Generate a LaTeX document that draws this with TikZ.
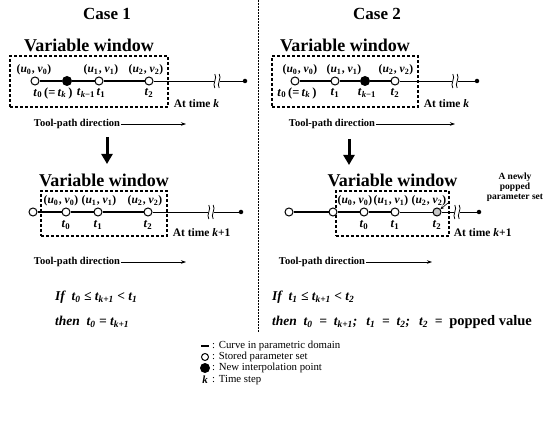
\documentclass[tikz,border=0pt]{standalone}
\usepackage{fontspec}
\setmainfont{Liberation Serif}
\usetikzlibrary{arrows.meta, positioning}
\newcommand{\tvar}[1]{\textit{t}\textsubscript{#1}}
\newcommand{\uv}[1]{(\textit{u}\textsubscript{#1}\kern.5pt, \textit{v}\textsubscript{#1})}
% two wavy strokes that cut the curve
\newcommand{\pathbreak}[1]{%
  \fill[white] ([xshift=-3pt,yshift=-2pt]#1) rectangle ([xshift=3pt,yshift=2pt]#1);
  \foreach \dx in {-2.2,2.2}
    \draw[line width=0.8pt] ([xshift=\dx pt,yshift=7pt]#1)
      .. controls +(3pt,-4pt) and +(-3pt,4pt) .. ([xshift=\dx pt,yshift=-7pt]#1);
}
\tikzset{
  casetitle/.style={font=\fontsize{17}{19}\selectfont\bfseries},
  wintitle/.style={font=\fontsize{18}{19}\selectfont\bfseries, inner sep=1pt},
  winbox/.style={rectangle, draw, densely dashed, line width=1.3pt, inner sep=0pt,
                 minimum width=#1, minimum height=51pt},
  stored/.style={circle, draw, line width=1pt, fill=white, minimum size=8pt, inner sep=0pt},
  interp/.style={circle, fill=black, minimum size=10pt, inner sep=0pt},
  enddot/.style={circle, fill=black, minimum size=4.5pt, inner sep=0pt},
  thickcurve/.style={line width=2.4pt},
  thincurve/.style={line width=0.8pt},
  uvlbl/.style={font=\fontsize{11.5}{12}\selectfont\bfseries, inner sep=0pt},
  tlbl/.style={font=\fontsize{12.5}{12}\selectfont\bfseries, inner sep=0pt},
  timelbl/.style={font=\fontsize{11.5}{12}\selectfont\bfseries, inner sep=0pt},
  toollbl/.style={font=\fontsize{10.5}{12}\selectfont\bfseries, inner sep=1pt},
  toolarrow/.style={line width=0.6pt, -{Stealth[length=5pt,width=3.5pt]}},
  downarrow/.style={line width=3pt, -{Triangle[length=10pt,width=11pt]}},
  condlbl/.style={font=\fontsize{13.5}{15}\selectfont\bfseries\itshape, inner sep=0pt, anchor=west},
  divider/.style={line width=0.7pt, dash pattern=on 2pt off 1pt},
  poplbl/.style={font=\fontsize{9.5}{10}\selectfont\bfseries, align=center, inner sep=0pt},
  popptr/.style={line width=0.6pt, -{Stealth[length=3.5pt,width=3pt]}},
  legtext/.style={font=\fontsize{10.8}{11}\selectfont, anchor=west, inner sep=0pt},
  legdash/.style={rectangle, fill=black, minimum width=8pt, minimum height=2.5pt, inner sep=0pt},
}

\begin{document}
\begin{tikzpicture}[x=1pt, y=-1pt]
  \useasboundingbox (0,0) rectangle (547,425);

  \node[casetitle] (case1) at (107,14) {Case 1};
  \node[casetitle] (case2) at (377,14) {Case 2};
  \coordinate (divtop) at (258,0);
  \coordinate (divbot) at (258,332);
  \draw[divider] (divtop) -- (divbot);

  % Case 1, time k
  \node[winbox=158pt, label={[wintitle, label distance=2pt]above:Variable window}] (win1) at (89,81.5) {};
  \node[stored] (a0) at (35,81) {};
  \node[interp] (ak) at (67,81) {};
  \node[stored] (a1) at (99,81) {};
  \node[stored] (a2) at (149,81) {};
  \coordinate (abrk) at (217,81);
  \node[enddot] (aend) at (245,81) {};
  \draw[thincurve] (a2) -- (aend);
  \draw[thickcurve] (a0) -- (ak) -- (a1) -- (a2);
  \pathbreak{abrk}
  \node[uvlbl] (a0uv) at (34,70) {\uv{0}};
  \node[uvlbl] (a1uv) at (101,70) {\uv{1}};
  \node[uvlbl] (a2uv) at (146,70) {\uv{2}};
  \node[tlbl] (a0t) at (53,93) {\tvar{0}\,(=\,\tvar{\textit{k}}\,)};
  \node[tlbl] (akt) at (86,93) {\tvar{\textit{k}−1}};
  \node[tlbl] (a1t) at (101,93) {\tvar{1}};
  \node[tlbl] (a2t) at (149,93) {\tvar{2}};
  \node[timelbl, anchor=base west] (at1) at ([xshift=5pt]win1.south east) {At time \textit{k}};
  \node[toollbl] (tp1) at (77,124) {Tool-path direction};
  \coordinate (tp1end) at (186,124);
  \draw[toolarrow] (tp1) -- (tp1end);

  \coordinate (dn1a) at (107,137);
  \coordinate (dn1b) at (107,164);
  \draw[downarrow] (dn1a) -- (dn1b);

  % Case 1, time k+1
  \node[winbox=126pt, minimum height=45pt, label={[wintitle, label distance=2pt]above:Variable window}] (win3) at (104,213.5) {};
  \node[stored] (c) at (33,212) {};
  \node[stored] (c0) at (66,212) {};
  \node[stored] (c1) at (98,212) {};
  \node[stored] (c2) at (148,212) {};
  \coordinate (cbrk) at (211,212);
  \node[enddot] (cend) at (241,212) {};
  \draw[thincurve] (c2) -- (cend);
  \draw[thickcurve] (c) -- (c0) -- (c1) -- (c2);
  \pathbreak{cbrk}
  \node[uvlbl] (c0uv) at (61,201) {\uv{0}};
  \node[uvlbl] (c1uv) at (99,201) {\uv{1}};
  \node[uvlbl] (c2uv) at (145,201) {\uv{2}};
  \node[tlbl] (c0t) at (66,225) {\tvar{0}};
  \node[tlbl] (c1t) at (98,225) {\tvar{1}};
  \node[tlbl] (c2t) at (148,225) {\tvar{2}};
  \node[timelbl, anchor=base west] (at3) at ([xshift=5pt]win3.south east) {At time \textit{k}+1};
  \node[toollbl] (tp3) at (77,262) {Tool-path direction};
  \coordinate (tp3end) at (186,262);
  \draw[toolarrow] (tp3) -- (tp3end);

  \node[condlbl] (if1) at (55,297) {If\ \ \tvar{0} ≤ \tvar{\textit{k}+1} < \tvar{1}};
  \node[condlbl] (then1) at (55,322) {then\ \ \tvar{0} = \tvar{\textit{k}+1}};

  % Case 2, time k
  \node[winbox=146pt, label={[wintitle, label distance=2pt]above:Variable window}] (win2) at (345,81.5) {};
  \node[stored] (b0) at (295,81) {};
  \node[stored] (b1) at (335,81) {};
  \node[interp] (bk) at (365,81) {};
  \node[stored] (b2) at (395,81) {};
  \coordinate (bbrk) at (455,81);
  \node[enddot] (bend) at (477,81) {};
  \draw[thincurve] (b2) -- (bend);
  \draw[thickcurve] (b0) -- (b1) -- (bk) -- (b2);
  \pathbreak{bbrk}
  \node[uvlbl] (b0uv) at (300,70) {\uv{0}};
  \node[uvlbl] (b1uv) at (344,70) {\uv{1}};
  \node[uvlbl] (b2uv) at (396,70) {\uv{2}};
  \node[tlbl] (b0t) at (297,93) {\tvar{0}\,(=\,\tvar{\textit{k}}\,)};
  \node[tlbl] (b1t) at (335,93) {\tvar{1}};
  \node[tlbl] (bkt) at (367,93) {\tvar{\textit{k}−1}};
  \node[tlbl] (b2t) at (395,93) {\tvar{2}};
  \node[timelbl, anchor=base west] (at2) at ([xshift=5pt]win2.south east) {At time \textit{k}};
  \node[toollbl] (tp2) at (332,124) {Tool-path direction};
  \coordinate (tp2end) at (455,124);
  \draw[toolarrow] (tp2) -- (tp2end);

  \coordinate (dn2a) at (349,139);
  \coordinate (dn2b) at (349,165);
  \draw[downarrow] (dn2a) -- (dn2b);

  % Case 2, time k+1
  \node[winbox=113pt, minimum height=45pt, label={[wintitle, label distance=2pt]above:Variable window}] (win4) at (392.5,213.5) {};
  \node[stored] (d) at (289,212) {};
  \node[stored] (dd) at (333,212) {};
  \node[stored] (d0) at (364,212) {};
  \node[stored] (d1) at (395,212) {};
  \node[stored, fill=gray!45] (d2) at (437,212) {};
  \coordinate (dbrk) at (457,212);
  \node[enddot] (dend) at (479,212) {};
  \draw[thincurve] (d1) -- (d2) -- (dend);
  \draw[thickcurve] (d) -- (dd) -- (d0) -- (d1);
  \pathbreak{dbrk}
  \node[uvlbl] (d0uv) at (355,201) {\uv{0}};
  \node[uvlbl] (d1uv) at (391,201) {\uv{1}};
  \node[uvlbl] (d2uv) at (429,201) {\uv{2}};
  \node[tlbl] (d0t) at (364,225) {\tvar{0}};
  \node[tlbl] (d1t) at (395,225) {\tvar{1}};
  \node[tlbl] (d2t) at (437,225) {\tvar{2}};
  \node[timelbl, anchor=base west] (at4) at ([xshift=4pt]win4.south east) {At time \textit{k}+1};
  \node[poplbl] (popped) at (515,187) {A newly\\popped\\parameter set};
  \coordinate (poptail) at (448,203);
  \draw[popptr] (poptail) -- (d2);
  \node[toollbl] (tp4) at (322,262) {Tool-path direction};
  \coordinate (tp4end) at (432,262);
  \draw[toolarrow] (tp4) -- (tp4end);

  \node[condlbl] (if2) at (272,297) {If\ \ \tvar{1} ≤ \tvar{\textit{k}+1} < \tvar{2}};
  \node[condlbl] (then2) at (272,322) {then\ \ \tvar{0}\enspace=\enspace\tvar{\textit{k}+1};\hspace{9pt}\tvar{1}\enspace=\enspace\tvar{2};\hspace{9pt}\tvar{2}\enspace=\enspace{\upshape\fontsize{14.5}{15}\selectfont popped value}};

  % legend
  \node[legdash] (lg1) at (205,346) {};
  \node[stored, minimum size=7pt] (lg2) at (205,357) {};
  \node[interp] (lg3) at (205,368) {};
  \node[font=\fontsize{11}{11}\selectfont\bfseries\itshape, inner sep=0pt] (lg4) at (205,380) {k};
  \node[legtext] (lt1) at (212,346) {: Curve in parametric domain};
  \node[legtext] (lt2) at (212,357) {: Stored parameter set};
  \node[legtext] (lt3) at (212,368) {: New interpolation point};
  \node[legtext] (lt4) at (212,380) {: Time step};
\end{tikzpicture}
\end{document}
